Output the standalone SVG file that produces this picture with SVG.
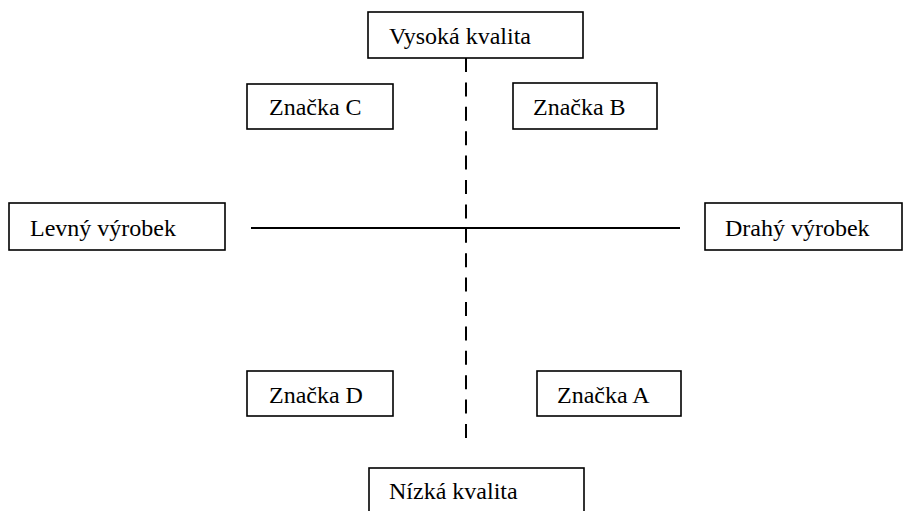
<svg xmlns="http://www.w3.org/2000/svg" width="909" height="511" viewBox="0 0 909 511">
  <style>
    .box rect { fill: #fff; stroke: #000; stroke-width: 1.6; }
    .box text { font-family: "Liberation Serif", "Times New Roman", serif; font-size: 24px; fill: #000; }
    .axis { stroke: #000; stroke-width: 2; fill: none; }
    .dashed { stroke-dasharray: 14 10.4; }
  </style>
  <rect width="909" height="511" fill="#fff"/>

  <!-- axes -->
  <g id="connectors">
    <line class="axis" x1="251" y1="228" x2="680" y2="228"/>
    <line class="axis dashed" x1="466" y1="58" x2="466" y2="438"/>
  </g>

  <g id="vysoka" class="box">
    <rect x="368" y="12" width="215" height="46"/>
    <text x="389" y="44">Vysoká kvalita</text>
  </g>
  <g id="znacka-c" class="box">
    <rect x="247" y="84" width="146" height="45"/>
    <text x="269" y="115">Značka C</text>
  </g>
  <g id="znacka-b" class="box">
    <rect x="513" y="83" width="144" height="46"/>
    <text x="533" y="115">Značka B</text>
  </g>
  <g id="levny" class="box">
    <rect x="9" y="203" width="216" height="47"/>
    <text x="30" y="236">Levný výrobek</text>
  </g>
  <g id="drahy" class="box">
    <rect x="705" y="203" width="197" height="47"/>
    <text x="725" y="236">Drahý výrobek</text>
  </g>
  <g id="znacka-d" class="box">
    <rect x="247" y="371" width="146" height="45"/>
    <text x="269" y="403">Značka D</text>
  </g>
  <g id="znacka-a" class="box">
    <rect x="537" y="371" width="144" height="45"/>
    <text x="557" y="403">Značka A</text>
  </g>
  <g id="nizka" class="box">
    <rect x="369" y="468" width="215" height="46"/>
    <text x="389" y="499">Nízká kvalita</text>
  </g>
</svg>
